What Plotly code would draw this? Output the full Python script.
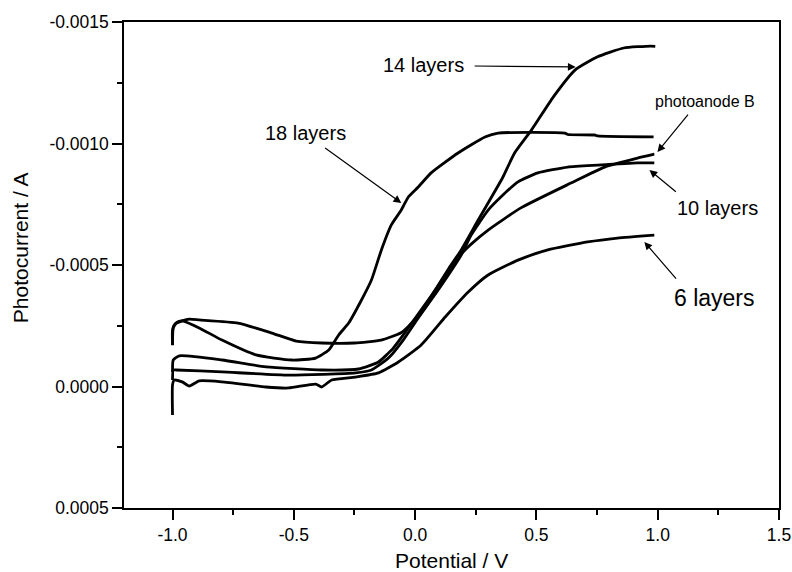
import plotly.graph_objects as go

# ---------------- data (Potential / V, Photocurrent / A) ----------------
v_14 = [-1.0, -1.0, -0.99, -0.96, -0.93, -0.89, -0.73, -0.59, -0.49, -0.385, -0.25, -0.14,
        -0.06, -0.03, 0.03, 0.14, 0.19, 0.26, 0.36, 0.41, 0.48, 0.57, 0.66, 0.75, 0.86, 0.97, 0.99]
i_14 = [-0.000170, -0.000232, -0.000257, -0.000270, -0.000277, -0.000274, -0.000261, -0.000220,
        -0.000187, -0.000179, -0.000179, -0.000191, -0.000220, -0.000245, -0.000315, -0.000488,
        -0.000562, -0.000685, -0.000858, -0.000961, -0.001056, -0.001192, -0.001303, -0.001356,
        -0.001393, -0.001401, -0.001400]

v_18 = [-1.0, -0.997, -0.981, -0.96, -0.89, -0.796, -0.656, -0.508, -0.41, -0.356, -0.315, -0.274,
        -0.221, -0.18, -0.139, -0.098, -0.057, -0.028, 0.013, 0.066, 0.177, 0.288, 0.342, 0.617,
        0.629, 0.74, 0.753, 0.983]
i_18 = [-0.000171, -0.000241, -0.000265, -0.000270, -0.000241, -0.000191, -0.000130, -0.000109,
        -0.000117, -0.000150, -0.000212, -0.000261, -0.000356, -0.000438, -0.000562, -0.000665,
        -0.000726, -0.000780, -0.000821, -0.000879, -0.000961, -0.001027, -0.001043, -0.001043,
        -0.001037, -0.001035, -0.001031, -0.001027]

v_b = [-1.0, -0.997, -0.972, -0.796, -0.615, -0.385, -0.233, -0.151, -0.09, -0.028, 0.054, 0.137,
       0.19, 0.231, 0.301, 0.436, 0.642, 0.781, 0.917, 0.986]
i_b = [-0.000060, -0.000109, -0.000126, -0.000109, -0.000081, -0.000068, -0.000072, -0.000101,
       -0.000158, -0.000241, -0.000356, -0.000471, -0.000545, -0.000586, -0.000644, -0.000735,
       -0.000837, -0.000903, -0.000940, -0.000956]

v_10 = [-1.0, -0.997, -0.985, -0.796, -0.521, -0.246, -0.18, -0.11, -0.049, 0.013, 0.095, 0.19,
        0.231, 0.301, 0.362, 0.424, 0.506, 0.629, 0.753, 0.917, 0.986]
i_10 = [-0.000027, -0.000068, -0.000068, -0.000060, -0.000047, -0.000056, -0.000068, -0.000117,
        -0.000191, -0.000282, -0.000397, -0.000541, -0.000623, -0.000726, -0.000788, -0.000842,
        -0.000879, -0.000903, -0.000911, -0.000920, -0.000920]

v_6 = [-1.0, -1.0, -0.993, -0.96, -0.931, -0.89, -0.796, -0.615, -0.521, -0.41, -0.385, -0.344,
       -0.246, -0.151, -0.069, 0.025, 0.124, 0.219, 0.301, 0.424, 0.547, 0.711, 0.834, 0.986]
i_6 = [0.000117, -0.000006, -0.000027, -0.000019, -0.000002, -0.000023, -0.000019, 0.000002,
       0.000006, -0.000010, 0.000002, -0.000027, -0.000039, -0.000056, -0.000101, -0.000171,
       -0.000286, -0.000389, -0.000459, -0.000520, -0.000562, -0.000595, -0.000611, -0.000623]

x_ticks = [-1.0, -0.5, 0.0, 0.5, 1.0, 1.5]
x_labels = ["-1.0", "-0.5", "0.0", "0.5", "1.0", "1.5"]
y_ticks = [-0.0015, -0.0010, -0.0005, 0.0, 0.0005]
y_labels = ["-0.0015", "-0.0010", "-0.0005", "0.0000", "0.0005"]

series = [(v_6, i_6, "6 layers"), (v_10, i_10, "10 layers"), (v_b, i_b, "photoanode B"),
          (v_14, i_14, "14 layers"), (v_18, i_18, "18 layers")]

FONT = "Liberation Sans, Arial, Helvetica, sans-serif"

fig = go.Figure()
for vx, iy, name in series:
    fig.add_trace(go.Scatter(x=vx, y=iy, mode="lines", name=name,
                             line=dict(color="black", width=2.8, shape="spline", smoothing=0.5),
                             showlegend=False))

# labels: (text, text_x, text_y, size, arrow_tail_x, arrow_tail_y, arrow_tip_x, arrow_tip_y)
labels = [
    ("14 layers", 0.034, -0.001323, 20, 0.239, -0.001319, 0.662, -0.001315),
    ("18 layers", -0.450, -0.001043, 20, -0.377, -0.000986, -0.057, -0.000755),
    ("photoanode B", 1.196, -0.001171, 16, 1.130, -0.001125, 0.999, -0.000965),
    ("10 layers", 1.245, -0.000735, 20, 1.081, -0.000796, 0.966, -0.000891),
    ("6 layers", 1.233, -0.000364, 23, 1.081, -0.000438, 0.945, -0.000595),
]
for txt, tx, ty, sz, ax, ay, hx, hy in labels:
    fig.add_annotation(x=tx, y=ty, text=txt, showarrow=False,
                       font=dict(family=FONT, size=sz, color="black"))
    fig.add_annotation(x=hx, y=hy, ax=ax, ay=ay, axref="x", ayref="y", text="",
                       showarrow=True, arrowhead=2, arrowsize=1.3, arrowwidth=1.2,
                       arrowcolor="black")

# axis titles
fig.add_annotation(xref="paper", yref="paper", x=0.5, y=-0.107, yanchor="middle",
                   text="Potential / V", showarrow=False,
                   font=dict(family=FONT, size=21, color="black"))
fig.add_annotation(xref="paper", yref="paper", x=-0.157, y=0.535, xanchor="center",
                   yanchor="middle",
                   text="Photocurrent / A", showarrow=False, textangle=-90,
                   font=dict(family=FONT, size=21, color="black"))

axis_common = dict(showline=True, linecolor="black", linewidth=1.5, mirror=True,
                   ticks="outside", ticklen=10, tickwidth=1.5, tickcolor="black",
                   showgrid=False, zeroline=False, automargin=False,
                   ticklabeloverflow="allow", tickfont=dict(size=17.5))

fig.update_layout(
    width=792, height=572,
    margin=dict(l=124, r=13, t=22, b=64),
    paper_bgcolor="white", plot_bgcolor="white",
    font=dict(family=FONT, size=17.5, color="black"),
    xaxis=dict(range=[-1.2, 1.5], tickvals=x_ticks, ticktext=x_labels,
               minor=dict(ticks="outside", ticklen=5, tickwidth=1.5, tickcolor="black",
                          dtick=0.25, tick0=0, showgrid=False),
               **axis_common),
    yaxis=dict(range=[0.0005, -0.0015], tickvals=y_ticks, ticktext=y_labels,
               minor=dict(ticks="outside", ticklen=5, tickwidth=1.5, tickcolor="black",
                          dtick=0.00025, tick0=0, showgrid=False),
               **axis_common),
)

fig.write_html("out.html")
